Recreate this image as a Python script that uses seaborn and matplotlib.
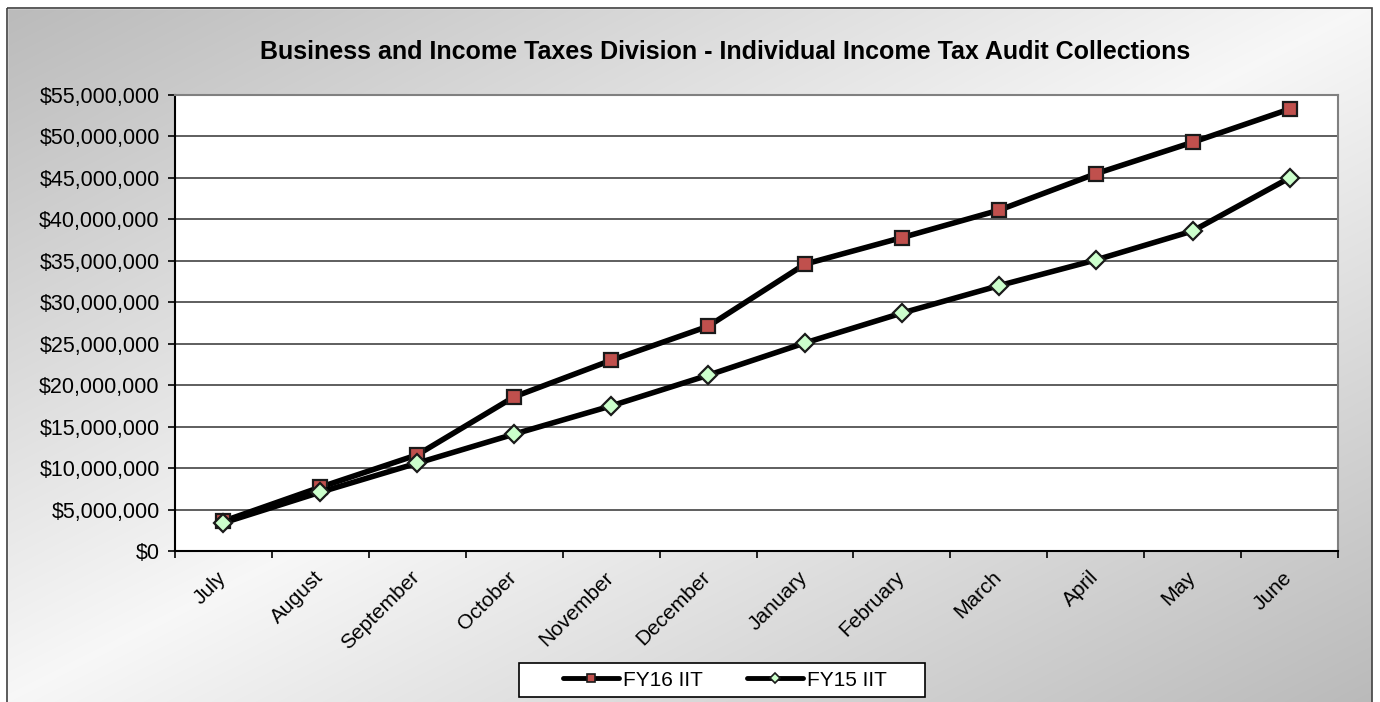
import numpy as np
import pandas as pd
import matplotlib.pyplot as plt
import matplotlib.ticker as mticker
import matplotlib.transforms as mtransforms
from matplotlib.patches import Rectangle
from matplotlib.lines import Line2D
import seaborn as sns

months = ['July', 'August', 'September', 'October', 'November', 'December',
          'January', 'February', 'March', 'April', 'May', 'June']
fy16 = [3.6, 7.7, 11.6, 18.6, 23.0, 27.1, 34.6, 37.8, 41.1, 45.5, 49.3, 53.3]
fy15 = [3.4, 7.1, 10.6, 14.1, 17.5, 21.2, 25.1, 28.7, 32.0, 35.1, 38.6, 45.0]
fy16 = [v * 1e6 for v in fy16]
fy15 = [v * 1e6 for v in fy15]

df = pd.DataFrame({'pos': range(len(months)), 'Month': months,
                   'FY16 IIT': fy16, 'FY15 IIT': fy15})

RED = '#c0504d'
GREEN = '#ccffcc'

sns.set_theme(style='white')
plt.rcParams['font.family'] = ['Liberation Sans', 'DejaVu Sans']
plt.rcParams['text.color'] = 'black'
plt.rcParams['xtick.color'] = 'black'
plt.rcParams['ytick.color'] = 'black'

fig = plt.figure(figsize=(13.8, 7.02), dpi=100)

# gradient background (dark corners, light anti-diagonal band)
bg = fig.add_axes([0, 0, 1, 1], zorder=-10)
h, w = 702, 1380
yy, xx = np.mgrid[0:h, 0:w]
s = xx / w + yy / h
g = 0.75 + 0.22 * (1 - np.abs(s - 1.0) * 1.1)
g = np.clip(g, 0, 1)
bg.imshow(np.dstack([g, g, g]), extent=[0, w, h, 0], aspect='auto')
bg.add_patch(Rectangle((0, 0), w, 8, color='white', zorder=2))
bg.add_patch(Rectangle((0, 0), 7, h, color='white', zorder=2))
bg.add_patch(Rectangle((1372, 0), 10, h, color='white', zorder=2))
bg.add_patch(Rectangle((7, 8), 1365, 700, fill=False, edgecolor='#404040', lw=1.2, zorder=3))
# legend box
bg.add_patch(Rectangle((519, 663), 406, 34, facecolor='white', edgecolor='black', lw=1.2, zorder=3))
bg.set_xlim(0, w)
bg.set_ylim(h, 0)
bg.axis('off')

ax = fig.add_axes([175 / 1380, 1 - 551 / 702, 1163 / 1380, 456 / 702])
ax.set_facecolor('white')

sns.lineplot(data=df, x='pos', y='FY16 IIT', ax=ax, color='black', lw=4,
             marker='s', markersize=10, markerfacecolor=RED,
             markeredgecolor='#1a1a1a', markeredgewidth=1.6, legend=False, zorder=4)
sns.lineplot(data=df, x='pos', y='FY15 IIT', ax=ax, color='black', lw=4,
             marker='D', markersize=9, markerfacecolor=GREEN,
             markeredgecolor='#1a1a1a', markeredgewidth=1.6, legend=False, zorder=4)

ax.set_xlim(-0.5, len(months) - 0.5)
ax.set_ylim(0, 55e6)
ax.set_yticks(np.arange(0, 55e6 + 1, 5e6))
ax.yaxis.set_major_formatter(mticker.FuncFormatter(lambda v, p: f'${v:,.0f}'))
ax.grid(axis='y', color='#333333', lw=1.1)
ax.set_axisbelow(True)

ax.set_xticks(range(len(months)))
ax.set_xticklabels(months, rotation=45, ha='right', rotation_mode='anchor')
ax.set_xticks(np.arange(-0.5, len(months), 1), minor=True)
ax.tick_params(axis='x', which='major', length=0, pad=12, labelsize=15)
ax.tick_params(axis='x', which='minor', length=5, width=1.2, color='black', bottom=True)
ax.tick_params(axis='y', length=5, width=1.2, color='black', left=True, labelsize=15.5, pad=6)
ax.set_xlabel('')
ax.set_ylabel('')

shift = mtransforms.ScaledTranslation(-7 / 100, 0, fig.dpi_scale_trans)
for lbl in ax.get_xticklabels():
    lbl.set_transform(lbl.get_transform() + shift)

for side in ['left', 'bottom']:
    ax.spines[side].set_color('black')
    ax.spines[side].set_linewidth(1.5)
for side in ['top', 'right']:
    ax.spines[side].set_color('#808080')
    ax.spines[side].set_linewidth(1.5)

fig.text(725 / 1380, 1 - 52 / 702, 'Business and Income Taxes Division - Individual Income Tax Audit Collections',
         ha='center', va='center', fontsize=18, fontweight='bold', color='black')

handles = [
    Line2D([], [], color='black', lw=3.5, marker='s', markersize=6,
           markerfacecolor=RED, markeredgecolor='#1a1a1a', markeredgewidth=1.2),
    Line2D([], [], color='black', lw=3.5, marker='D', markersize=5,
           markerfacecolor=GREEN, markeredgecolor='#1a1a1a', markeredgewidth=1.2),
]
leg = fig.legend(handles, ['FY16 IIT', 'FY15 IIT'], loc='center',
                 bbox_to_anchor=(725 / 1380, 1 - 680 / 702),
                 ncol=2, frameon=False,
                 fontsize=15, handlelength=2.7, handletextpad=0.2, columnspacing=2.1,
                 borderpad=0, borderaxespad=0)

fig.savefig('out.png', dpi=100)
